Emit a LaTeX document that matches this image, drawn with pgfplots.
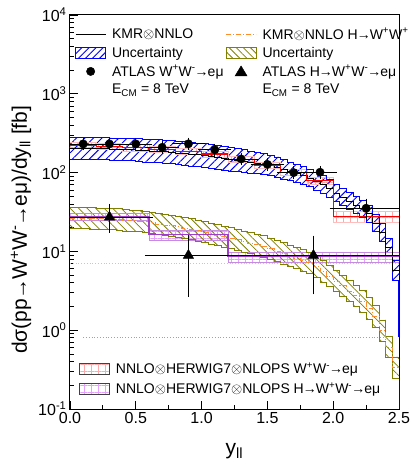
\documentclass[border=0pt]{standalone}
\usepackage{pgfplots}
\pgfplotsset{compat=1.18}
\usepackage{pgfplotstable}
\usepgfplotslibrary{fillbetween}
\usetikzlibrary{patterns.meta}
\usepackage{fontspec}
\setmainfont{Liberation Sans}

\definecolor{mblue}{RGB}{0,0,255}
\definecolor{molive}{RGB}{128,128,0}
\definecolor{mpink}{RGB}{255,170,170}
\definecolor{mpinkedge}{RGB}{255,190,190}
\definecolor{mviolet}{RGB}{232,160,255}
\definecolor{mpurple}{RGB}{160,60,200}
\definecolor{morange}{RGB}{255,140,40}
\definecolor{mred}{RGB}{255,0,0}

% KMR x NNLO W+W- : upper, lower, central
\pgfplotstableread{
x up lo c
0.00 280 147 203
0.05 280 147 203
0.10 279 146 202
0.15 279 146 202
0.20 278 146 201
0.25 277 145 201
0.30 275 144 199
0.35 274 144 199
0.40 272 143 197
0.45 270 142 196
0.50 268 137 191
0.55 265 136 189
0.60 263 135 188
0.65 260 133 186
0.70 257 132 184
0.75 254 130 181
0.80 251 126 178
0.85 247 124 175
0.90 242 121 172
0.95 237 119 168
1.00 232 116 165
1.05 227 113 161
1.10 221 111 157
1.15 215 108 152
1.20 209 105 148
1.25 202 103 144
1.30 195 101 140
1.35 188 98.9 136
1.40 181 96.6 132
1.45 174 94.0 128
1.50 166 91.2 123
1.55 158 88.1 118
1.60 145 81.8 109
1.65 136 78.5 103
1.70 127 74.5 97
1.75 119 70.5 91.5
1.80 110 66.1 85.3
1.85 100 60.3 77.5
1.90 91.2 55.0 70.7
1.95 81.3 49.0 63.0
2.00 70.8 42.7 54.9
2.05 63.1 38.0 48.9
2.10 56.2 33.9 43.6
2.15 50.1 30.2 38.8
2.20 44.7 26.9 34.7
2.25 38.9 23.4 30.2
2.30 29.5 17.8 22.9
2.35 22.4 13.5 17.4
2.40 14.5 8.71 11.2
2.45 7.69 4.33 5.78
2.50 7.69 4.33 5.78
}\wwkmr

% KMR x NNLO H->WW : upper, lower, central
\pgfplotstableread{
x up lo c
0.00 36.3 19.5 26.6
0.05 36.3 19.5 26.6
0.10 36.3 19.5 26.6
0.15 35.9 19.3 26.3
0.20 35.5 19.1 26.0
0.25 35.5 19.1 26.0
0.30 35.1 18.9 25.7
0.35 34.7 18.7 25.4
0.40 33.9 18.2 24.9
0.45 33.5 18.0 24.6
0.50 33.1 17.8 24.3
0.55 32.4 17.4 23.8
0.60 31.6 17.0 23.2
0.65 30.2 16.2 22.1
0.70 29.5 15.9 21.6
0.75 28.8 15.5 21.1
0.80 28.2 15.2 20.7
0.85 26.9 14.5 19.7
0.90 26.3 14.1 19.3
0.95 25.1 13.5 18.4
1.00 24.0 12.9 17.6
1.05 22.9 12.3 16.8
1.10 21.9 11.8 16.1
1.15 20.9 11.2 15.3
1.20 20.0 10.8 14.7
1.25 19.1 10.3 14.0
1.30 18.2 9.8 13.3
1.35 17.4 9.35 12.8
1.40 16.6 8.9 12.2
1.45 15.8 8.5 11.6
1.50 14.8 7.96 10.8
1.55 13.8 7.42 10.1
1.60 12.9 6.94 9.46
1.65 12.0 6.45 8.80
1.70 11.2 6.02 8.21
1.75 10.5 5.65 7.70
1.80 9.77 5.25 7.16
1.85 8.71 4.68 6.38
1.90 7.59 4.08 5.56
1.95 6.61 3.55 4.85
2.00 5.75 3.09 4.21
2.05 5.01 2.69 3.67
2.10 4.27 2.30 3.13
2.15 3.72 2.00 2.73
2.20 3.16 1.70 2.32
2.25 2.57 1.38 1.88
2.30 2.04 1.10 1.50
2.35 1.35 0.73 0.99
2.40 0.83 0.45 0.61
2.45 0.457 0.246 0.335
2.50 0.457 0.246 0.335
}\hkmr

% NNLO x HERWIG7 x NLOPS W+W-
\pgfplotstableread{
x up lo c
0.0 242 202 222
0.2 236 197 217
0.4 227 189 208
0.6 215 179 197
0.8 204 170 187
1.0 187 157 172
1.2 160 134 147
1.4 136 114 125
1.6 110 92 101
1.8 86 72 79
2.0 32.4 23.5 27.5
2.5 32.4 23.5 27.5
}\wwhw

% NNLO x HERWIG7 x NLOPS H->W+W-
\pgfplotstableread{
x up lo c
0.0 30.5 24.5 28.0
0.6 18.3 13.8 16.4
1.2 9.8 7.2 8.7
2.5 9.8 7.2 8.7
}\hhw

% ATLAS W+W- -> e mu
\pgfplotstableread{
x y ex ey
0.1 231 0.1 18
0.3 231 0.1 18
0.5 231 0.1 18
0.7 209 0.1 16
0.9 232 0.1 18
1.1 195 0.1 15
1.3 149 0.1 12
1.5 127 0.1 11
1.7 100 0.1 9
1.9 101 0.1 9
2.25 35.3 0.25 7
}\atlasww

% ATLAS H -> W+W- -> e mu
\pgfplotstableread{
x y ex ep em
0.3 27.2 0.3 8.5 7.8
0.9 8.9 0.3 5.6 5.9
1.85 8.9 0.65 5.2 5.7
}\atlash

\begin{document}
\begin{tikzpicture}
\begin{axis}[
  name=main,
  scale only axis, width=329pt, height=394pt,
  xmin=0, xmax=2.5, ymin=0.1, ymax=10000, ymode=log,
  xtick={0,0.5,1,1.5,2,2.5}, xticklabels={0.0,0.5,1.0,1.5,2.0,2.5},
  minor xtick={0.25,0.75,1.25,1.75,2.25},
  ytick={0.1,1,10,100,1000,10000},
  yticklabels={10\textsuperscript{-1},10\textsuperscript{0},10\textsuperscript{1},10\textsuperscript{2},10\textsuperscript{3},10\textsuperscript{4}},
  tick align=inside, xtick pos=bottom, ytick pos=left,
  major tick length=8pt, minor tick length=4pt,
  tick style={black, line width=0.8pt},
  axis line style={line width=1pt},
  ticklabel style={font=\fontsize{16}{18}\selectfont},
  xlabel={y\textsubscript{ll}},
  ylabel={dσ(pp\kern-1pt→\kern-1ptW\textsuperscript{+}W\textsuperscript{-}\kern-1pt→\kern-1pteμ)/dy\textsubscript{ll} [fb]},
  label style={font=\fontsize{21}{25}\selectfont},
  xlabel style={yshift=-13pt},
  ylabel style={at={(ticklabel cs:0.455)}},
  legend columns=2,
  legend cell align=left,
  legend style={at={(axis description cs:0,1)}, anchor=north west, xshift=2pt, yshift=-9pt,
    draw=none, fill=none, font=\fontsize{14}{16}\selectfont, row sep=2.5pt,
    /tikz/every odd column/.append style={column sep=4pt}},
]
% bands
\addplot[const plot, draw=mpurple!60, line width=0.6pt, name path=hhu, forget plot] table[x=x,y=up]{\hhw};
\addplot[const plot, draw=mpurple!60, line width=0.6pt, name path=hhl, forget plot] table[x=x,y=lo]{\hhw};
\addplot[pattern={Hatch[angle=0,distance=7pt,line width=0.6pt]}, pattern color=mviolet, draw=none, forget plot] fill between[of=hhu and hhl];

\addplot[const plot, draw=mpinkedge, line width=0.6pt, name path=wwhu, forget plot] table[x=x,y=up]{\wwhw};
\addplot[const plot, draw=mpinkedge, line width=0.6pt, name path=wwhl, forget plot] table[x=x,y=lo]{\wwhw};
\addplot[pattern={Hatch[angle=0,distance=7pt,line width=0.6pt]}, pattern color=mpink, draw=none, forget plot] fill between[of=wwhu and wwhl];

\addplot[const plot, draw=molive, line width=0.8pt, name path=hku, forget plot] table[x=x,y=up]{\hkmr};
\addplot[const plot, draw=molive, line width=0.8pt, name path=hkl, forget plot] table[x=x,y=lo]{\hkmr};
\addplot[pattern={Lines[angle=-45,distance=6pt,line width=0.8pt]}, pattern color=molive, draw=none, forget plot] fill between[of=hku and hkl];

\addplot[const plot, draw=mblue, line width=0.8pt, name path=wku, forget plot] table[x=x,y=up]{\wwkmr};
\addplot[const plot, draw=mblue, line width=0.8pt, name path=wkl, forget plot] table[x=x,y=lo]{\wwkmr};
\addplot[pattern={Lines[angle=45,distance=6pt,line width=0.9pt]}, pattern color=mblue, draw=none, forget plot] fill between[of=wku and wkl];

% dotted reference lines
\addplot[color={rgb,255:red,225;green,185;blue,205}, dotted, line width=0.8pt, forget plot] coordinates {(0,7.0) (2.5,7.0)};
\addplot[color={rgb,255:red,150;green,150;blue,255}, dotted, line width=0.8pt, forget plot] coordinates {(0.1,0.81) (2.4,0.81)};

% central lines
\addplot[const plot, black, line width=0.7pt, forget plot] table[x=x,y=c]{\wwkmr};
\addplot[const plot, morange, line width=0.8pt, dash pattern=on 5pt off 2pt on 1pt off 2pt, forget plot] table[x=x,y=c]{\hkmr};
\addplot[const plot, mpurple, line width=1.2pt, forget plot] table[x=x,y=c]{\hhw};
\addplot[const plot, mred, line width=1.1pt, forget plot] table[x=x,y=c]{\wwhw};
\addplot[mblue, line width=1.2pt, forget plot] coordinates {(2.5,4.33) (2.5,0.81)};
\addplot[morange, line width=1pt, forget plot] coordinates {(2.5,0.246) (2.5,0.1)};

% ATLAS data
\addplot[black, only marks, mark=*, mark size=4.2pt, forget plot,
  error bars/.cd, x dir=both, x explicit, y dir=both, y explicit,
  error bar style={line width=0.8pt}, error mark options={black, mark size=3.5pt, line width=0.8pt}]
  table[x=x,y=y,x error=ex,y error=ey]{\atlasww};
\addplot[black, only marks, mark=triangle*, mark size=6pt, forget plot,
  error bars/.cd, x dir=both, x explicit, y dir=both, y explicit,
  error bar style={line width=0.8pt}, error mark options={black, mark size=4pt, line width=0.8pt}]
  table[x=x,y=y,x error=ex,y error plus=ep,y error minus=em]{\atlash};

% legend
\addlegendimage{legend image code/.code={\draw[black, line width=0.8pt] (0pt,0pt) -- (30pt,0pt);}}
\addlegendentry{KMR$\otimes$NNLO}
\addlegendimage{legend image code/.code={\draw[morange, line width=1pt, dash pattern=on 5pt off 2pt on 1pt off 2pt] (0pt,0pt) -- (30pt,0pt);}}
\addlegendentry{KMR$\otimes$NNLO H\kern-1pt→\kern-1ptW\textsuperscript{+}W\textsuperscript{+}}
\addlegendimage{legend image code/.code={\draw[mblue, line width=0.8pt, pattern={Lines[angle=45,distance=5pt,line width=0.9pt]}, pattern color=mblue] (0pt,-5.5pt) rectangle (30pt,5.5pt);}}
\addlegendentry{Uncertainty}
\addlegendimage{legend image code/.code={\draw[molive, line width=0.8pt, pattern={Lines[angle=-45,distance=5pt,line width=0.8pt]}, pattern color=molive] (0pt,-5.5pt) rectangle (30pt,5.5pt);}}
\addlegendentry{Uncertainty}
\addlegendimage{legend image code/.code={\fill[black] (15pt,0pt) circle (4.2pt);}}
\addlegendentry{ATLAS W\textsuperscript{+}W\textsuperscript{-}\kern-1pt→\kern-1pteμ}
\addlegendimage{legend image code/.code={\fill[black] (9pt,-4.5pt) -- (21pt,-4.5pt) -- (15pt,5.5pt) -- cycle;}}
\addlegendentry{ATLAS H\kern-1pt→\kern-1ptW\textsuperscript{+}W\textsuperscript{-}\kern-1pt→\kern-1pteμ}
\addlegendimage{empty legend}
\addlegendentry{E\textsubscript{CM} = 8 TeV}
\addlegendimage{empty legend}
\addlegendentry{E\textsubscript{CM} = 8 TeV}
\end{axis}

\begin{axis}[
  scale only axis, width=329pt, height=394pt,
  hide axis, xmin=0, xmax=1, ymin=0, ymax=1,
  legend cell align=left,
  legend style={at={(axis description cs:0,0)}, anchor=south west, xshift=6pt, yshift=10pt,
    draw=none, fill=none, font=\fontsize{14}{16}\selectfont, row sep=3pt,
    /tikz/every odd column/.append style={column sep=4pt}},
]
\addlegendimage{legend image code/.code={\draw[black!75, line width=0.8pt, pattern={Hatch[angle=0,distance=7pt,line width=0.6pt]}, pattern color=mpink] (0pt,-5.5pt) rectangle (30pt,5.5pt);}}
\addlegendentry{NNLO$\otimes$HERWIG7$\otimes$NLOPS W\textsuperscript{+}W\textsuperscript{-}\kern-1pt→\kern-1pteμ}
\addlegendimage{legend image code/.code={\draw[black!75, line width=0.8pt, pattern={Hatch[angle=0,distance=7pt,line width=0.6pt]}, pattern color=mviolet] (0pt,-5.5pt) rectangle (30pt,5.5pt);}}
\addlegendentry{NNLO$\otimes$HERWIG7$\otimes$NLOPS H\kern-1pt→\kern-1ptW\textsuperscript{+}W\textsuperscript{-}\kern-1pt→\kern-1pteμ}
\end{axis}

\pgfresetboundingbox
\path (main.south west) ++(-70pt,-60pt) coordinate (bbA);
\path (main.north east) ++(12pt,15pt) coordinate (bbB);
\path[use as bounding box] (bbA) rectangle (bbB);
\end{tikzpicture}
\end{document}
